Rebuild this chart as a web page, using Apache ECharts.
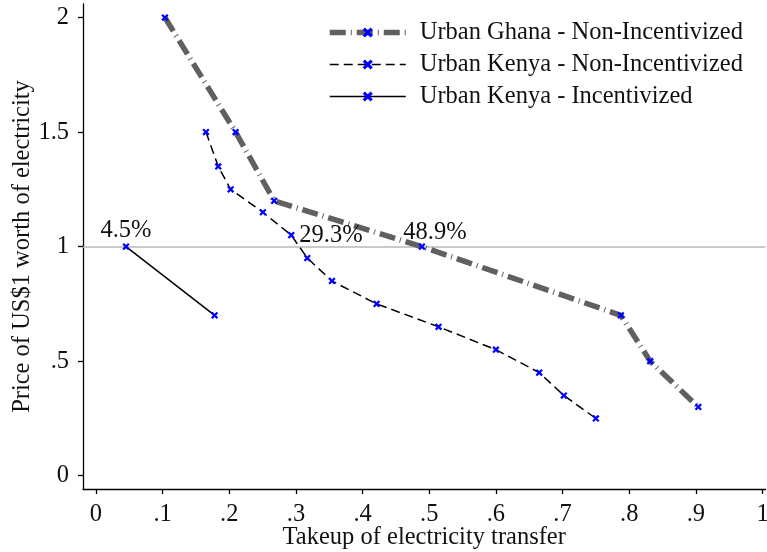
<!DOCTYPE html>
<html>
<head>
<meta charset="utf-8">
<script src="https://cdn.jsdelivr.net/npm/echarts@6/dist/echarts.min.js"></script>
<style>
html,body{margin:0;padding:0;background:#fff;}
#chart{width:767px;height:552px;}
</style>
</head>
<body>
<div id="chart"></div>
<script>
// ---- data ----
var ghanaX = [0.1034, 0.2094, 0.2673, 0.489, 0.7875, 0.8315, 0.9037];
var ghanaY = [2.0, 1.5, 1.2, 1.0, 0.7, 0.5, 0.3];
var kenyaNX = [0.165, 0.1834, 0.202, 0.2504, 0.293, 0.317, 0.354, 0.421, 0.514, 0.600, 0.665, 0.702, 0.750];
var kenyaNY = [1.5, 1.35, 1.25, 1.15, 1.05, 0.95, 0.85, 0.75, 0.65, 0.55, 0.45, 0.35, 0.25];
var kenyaIX = [0.045, 0.178];
var kenyaIY = [1.0, 0.7];
var xTicks = [0, 0.1, 0.2, 0.3, 0.4, 0.5, 0.6, 0.7, 0.8, 0.9, 1];
var yTicks = [0, 0.5, 1, 1.5, 2];
var seriesNames = ['Urban Ghana - Non-Incentivized', 'Urban Kenya - Non-Incentivized', 'Urban Kenya - Incentivized'];
var annotations = ['4.5%', '29.3%', '48.9%'];

function zip(xs, ys) { return xs.map(function (x, i) { return [x, ys[i]]; }); }
function fmt(v) {
  var s = String(Math.round(v * 10) / 10);
  return s.indexOf('0.') === 0 ? s.slice(1) : s;
}

var FONT = 'Liberation Serif';
var FS = 24.5;
var xMark = 'path://M3.6,0H6.4V3.6H10V6.4H6.4V10H3.6V6.4H0V3.6H3.6Z';
var markerStyle = { color: '#0000ff' };

var chart = echarts.init(document.getElementById('chart'), null, { renderer: 'canvas' });
chart.setOption({
  animation: false,
  backgroundColor: '#ffffff',
  textStyle: { fontFamily: FONT, color: '#000' },
  grid: { left: 83, right: 1.5, top: 4, bottom: 63, containLabel: false, outerBoundsMode: 'none' },
  legend: {
    left: 327, top: 20, orient: 'vertical', padding: 0,
    itemWidth: 76, itemHeight: 14, itemGap: 7,
    lineStyle: { width: 'inherit', type: 'inherit' },
    textStyle: { fontFamily: FONT, fontSize: FS, color: '#111', lineHeight: 24.5, padding: [0, 0, 0, 9] },
    data: seriesNames
  },
  xAxis: {
    type: 'value', min: -0.0195, max: 1.0045,
    name: 'Takeup of electricity transfer', nameLocation: 'middle', nameGap: 36, nameMoveOverlap: false,
    nameTextStyle: { fontFamily: FONT, fontSize: FS, color: '#111' },
    axisLine: { show: true, onZero: false, lineStyle: { color: '#000', width: 1.3 } },
    axisTick: { show: true, length: 5, lineStyle: { color: '#000', width: 1.3 }, customValues: xTicks },
    axisLabel: { fontFamily: FONT, fontSize: FS, color: '#111', margin: 13, customValues: xTicks, formatter: fmt },
    splitLine: { show: false }
  },
  yAxis: {
    type: 'value', min: -0.058, max: 2.059,
    name: 'Price of US$1 worth of electricity', nameLocation: 'middle', nameGap: 48, nameMoveOverlap: false,
    nameTextStyle: { fontFamily: FONT, fontSize: FS, color: '#111' },
    axisLine: { show: true, onZero: false, lineStyle: { color: '#000', width: 1.3 } },
    axisTick: { show: true, length: 5, lineStyle: { color: '#000', width: 1.3 }, customValues: yTicks },
    axisLabel: { fontFamily: FONT, fontSize: FS, color: '#111', margin: 14, customValues: yTicks, formatter: function (v) { return v === 0 ? '0' : (v < 1 ? String(v).slice(1) : String(v)); } },
    splitLine: { show: false }
  },
  series: [
    {
      name: seriesNames[0], type: 'line', data: zip(ghanaX, ghanaY), z: 3,
      symbol: xMark, symbolSize: 8, symbolRotate: 45, itemStyle: markerStyle,
      lineStyle: { color: '#606060', width: 5.5, type: [16, 5, 1, 5], cap: 'butt' },
      markLine: {
        silent: true, symbol: 'none', label: { show: false }, z: 1,
        lineStyle: { color: '#b8b8b8', width: 1.5, type: 'solid' },
        data: [{ yAxis: 1 }]
      },
      markPoint: {
        symbol: 'circle', symbolSize: 0,
        label: { show: true, formatter: annotations[2], fontFamily: FONT, fontSize: FS, color: '#111', offset: [13, -14] },
        data: [{ coord: [ghanaX[3], ghanaY[3]] }]
      }
    },
    {
      name: seriesNames[1], type: 'line', data: zip(kenyaNX, kenyaNY), z: 4,
      symbol: xMark, symbolSize: 8, symbolRotate: 45, itemStyle: markerStyle,
      lineStyle: { color: '#000', width: 1.5, type: [9, 5] },
      markPoint: {
        symbol: 'circle', symbolSize: 0,
        label: { show: true, formatter: annotations[1], fontFamily: FONT, fontSize: FS, color: '#111', position: 'right', distance: 8 },
        data: [{ coord: [kenyaNX[4], kenyaNY[4]] }]
      }
    },
    {
      name: seriesNames[2], type: 'line', data: zip(kenyaIX, kenyaIY), z: 4,
      symbol: xMark, symbolSize: 8, symbolRotate: 45, itemStyle: markerStyle,
      lineStyle: { color: '#000', width: 1.5, type: 'solid' },
      markPoint: {
        symbol: 'circle', symbolSize: 0,
        label: { show: true, formatter: annotations[0], fontFamily: FONT, fontSize: FS, color: '#111', offset: [0, -16] },
        data: [{ coord: [kenyaIX[0], kenyaIY[0]] }]
      }
    }
  ]
});
</script>
</body>
</html>
